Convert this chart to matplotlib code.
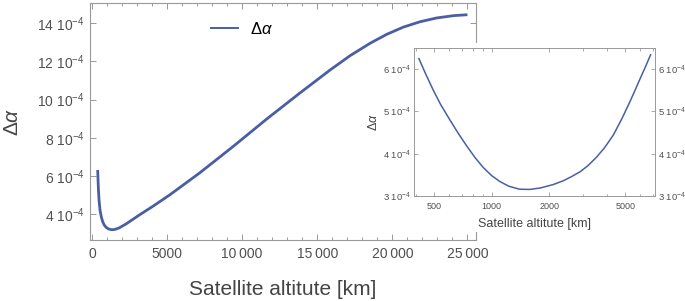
import matplotlib
matplotlib.use("Agg")
import matplotlib.pyplot as plt
from matplotlib.lines import Line2D
from matplotlib.patches import Rectangle
from matplotlib.ticker import MultipleLocator, FixedLocator, LogLocator, NullFormatter

plt.rcParams['font.family'] = ['Liberation Sans', 'DejaVu Sans']
plt.rcParams['mathtext.fontset'] = 'custom'
plt.rcParams['mathtext.rm'] = 'Liberation Sans'
plt.rcParams['mathtext.it'] = 'Liberation Sans:italic'
plt.rcParams['mathtext.sf'] = 'Liberation Sans'

# main panel: altitude [km] vs delta alpha (units of 1e-4)
main_alt = [380, 400, 430, 470, 533, 620, 712, 820, 932, 1100, 1300, 1500, 1800, 2264,
            3150, 4040, 5150, 6260, 7190, 9410, 11630, 13850, 15850, 17180, 18510,
            19620, 20730, 21840, 22950, 24060, 25000]
main_da = [6.31, 5.85, 5.25, 4.72, 4.21, 3.85, 3.60, 3.42, 3.31, 3.22, 3.18, 3.19, 3.27, 3.48,
           3.95, 4.40, 4.99, 5.63, 6.17, 7.55, 8.98, 10.35, 11.55, 12.30, 12.95,
           13.42, 13.80, 14.08, 14.28, 14.40, 14.45]

# inset panel (log altitude axis)
inset_alt = [416, 450, 494, 540, 605, 670, 740, 820, 904, 1000, 1105, 1230, 1400, 1586,
             1800, 2100, 2372, 2600, 2900, 3200, 3545, 3900, 4336, 4800, 5300, 5600,
             5975, 6400, 6790]
inset_da = [6.24, 5.89, 5.50, 5.16, 4.79, 4.47, 4.18, 3.90, 3.67, 3.48, 3.34, 3.23, 3.16,
            3.155, 3.19, 3.27, 3.36, 3.45, 3.57, 3.72, 3.92, 4.14, 4.44, 4.82, 5.23, 5.47,
            5.76, 6.06, 6.33]

main_yticks = [4, 6, 8, 10, 12, 14]
main_xticks = [0, 5000, 10000, 15000, 20000, 25000]
main_xlabels = ['0', '5000', '10\u2009000', '15\u2009000', '20\u2009000', '25\u2009000']
inset_yticks = [3, 4, 5, 6]
inset_xticks = [500, 1000, 2000, 5000]

LINE = '#4a5fa3'
FRAME = '#999999'
TXT = '#505050'

fig = plt.figure(figsize=(6.85, 3.01), dpi=100)

ax = fig.add_axes([90 / 685, 1 - 240 / 301, 386 / 685, 237.3 / 301])
ax.plot(main_alt, main_da, color=LINE, lw=2.0, solid_capstyle='butt', solid_joinstyle='round')
ax.set_xlim(-133, 25570)
ax.set_ylim(2.64, 15.08)
ax.xaxis.set_major_locator(FixedLocator(main_xticks))
ax.set_xticklabels(main_xlabels)
ax.xaxis.set_minor_locator(MultipleLocator(1000))
ax.yaxis.set_major_locator(FixedLocator(main_yticks))
ax.set_yticklabels([r'$%d\ 10^{-4}$' % v for v in main_yticks])
for s in ax.spines.values():
    s.set_color(FRAME)
    s.set_linewidth(0.8)
ax.tick_params(which='both', direction='in', top=True, right=True, color=FRAME, width=0.7)
ax.tick_params(which='major', length=4)
ax.tick_params(which='minor', length=2)
ax.tick_params(axis='x', labelsize=10, labelcolor=TXT, pad=5)
ax.tick_params(axis='y', labelsize=10, labelcolor=TXT, pad=4)
ax.set_xlabel('Satellite altitute [km]', fontsize=15, color='#444444', va='bottom')
ax.xaxis.set_label_coords(0.5, -0.248)
ax.set_ylabel(r'$\Delta\alpha$', fontsize=15, color='#444444')
ax.yaxis.set_label_coords(-0.175, 0.5)

handle = Line2D([], [], color=LINE, lw=1.4)
ax.legend([handle], [r'$\Delta\alpha$'], loc='center left', bbox_to_anchor=(0.3127, 0.89),
          frameon=False, borderpad=0, borderaxespad=0, handlelength=1.62,
          handletextpad=0.72, fontsize=12)

# white patch behind the inset hides the main right frame
fig.add_artist(Rectangle((380 / 685, 1 - 232 / 301), 305 / 685, 189 / 301,
                         transform=fig.transFigure, facecolor='white',
                         edgecolor='none', zorder=1))

ins = fig.add_axes([414 / 685, 1 - 196 / 301, 241 / 685, 148 / 301])
ins.set_zorder(2)
ins.plot(inset_alt, inset_da, color=LINE, lw=1.1, solid_joinstyle='round')
ins.set_xscale('log')
ins.set_xlim(392, 7160)
ins.set_ylim(3.0, 6.49)
ins.xaxis.set_major_locator(FixedLocator(inset_xticks))
ins.set_xticklabels([str(v) for v in inset_xticks])
ins.xaxis.set_minor_locator(LogLocator(base=10, subs=(3, 4, 6, 7, 8, 9), numticks=10))
ins.xaxis.set_minor_formatter(NullFormatter())
ins.yaxis.set_major_locator(FixedLocator(inset_yticks))
ins.set_yticklabels([r'$%d\ 10^{-4}$' % v for v in inset_yticks])
for s in ins.spines.values():
    s.set_color(FRAME)
    s.set_linewidth(0.7)
ins.tick_params(which='both', direction='in', top=True, right=True, color=FRAME, width=0.6)
ins.tick_params(which='major', length=3)
ins.tick_params(which='minor', length=1.8)
ins.tick_params(axis='x', labelsize=6.5, labelcolor=TXT, pad=4)
ins.tick_params(axis='y', labelsize=6.8, labelcolor=TXT, pad=4, labelright=True)
ins.tick_params(axis='y', which='major', pad=2.5)
ins.set_xlabel('Satellite altitute [km]', fontsize=9, color='#444444', labelpad=5)
ins.set_ylabel(r'$\Delta\alpha$', fontsize=9, color='#444444', labelpad=2)

fig.savefig('out.png', dpi=100)
